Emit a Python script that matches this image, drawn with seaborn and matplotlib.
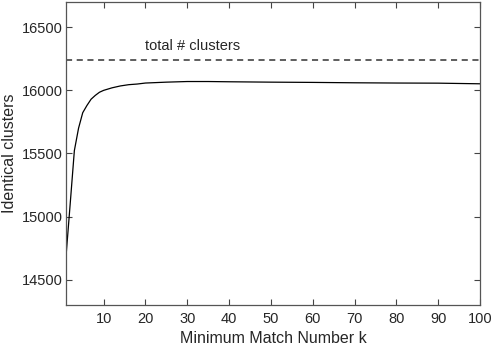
import numpy as np
import pandas as pd
import seaborn as sns
import matplotlib
matplotlib.use("Agg")
import matplotlib.pyplot as plt

# values
k_values = [1, 2, 3, 4, 5, 6, 7, 8, 9, 10, 12, 14, 16, 18, 20, 25, 30, 35, 40,
            50, 60, 70, 80, 90, 100]
identical = [14684, 15100, 15523, 15700, 15823, 15880, 15930, 15960, 15985, 16000,
             16020, 16035, 16045, 16050, 16058, 16065, 16070, 16070, 16068,
             16065, 16063, 16060, 16058, 16057, 16052]
total_clusters = 16244

df = pd.DataFrame({"k": k_values, "identical": identical})

sns.set_style("ticks")
plt.rcParams["font.family"] = ["Liberation Sans", "DejaVu Sans"]

fig = plt.figure(figsize=(4.94, 3.48), dpi=100)
ax = fig.add_axes([0.1336, 0.1236, 0.8381, 0.8707])

sns.lineplot(data=df, x="k", y="identical", color="black", linewidth=0.9, ax=ax)
ax.axhline(total_clusters, color="#333333", linestyle=(0, (4, 3)), linewidth=1.1)
ax.text(20, total_clusters + 55, "total # clusters", fontsize=10.5, ha="left", va="bottom")

ax.set_xlim(1, 100)
ax.set_ylim(14300, 16700)
ax.set_xticks(range(10, 101, 10))
ax.set_yticks([14500, 15000, 15500, 16000, 16500])
ax.tick_params(direction="in", top=True, right=True, length=4, width=0.8,
               labelsize=10.5, color="#444444", pad=2.5)
ax.tick_params(axis="x", pad=5)
for side in ax.spines.values():
    side.set_color("#555555")
    side.set_linewidth(0.9)

ax.set_xlabel("Minimum Match Number k", fontsize=11.5, labelpad=4)
ax.set_ylabel("Identical clusters", fontsize=11.5, labelpad=3)

fig.savefig("out.png", dpi=100)
